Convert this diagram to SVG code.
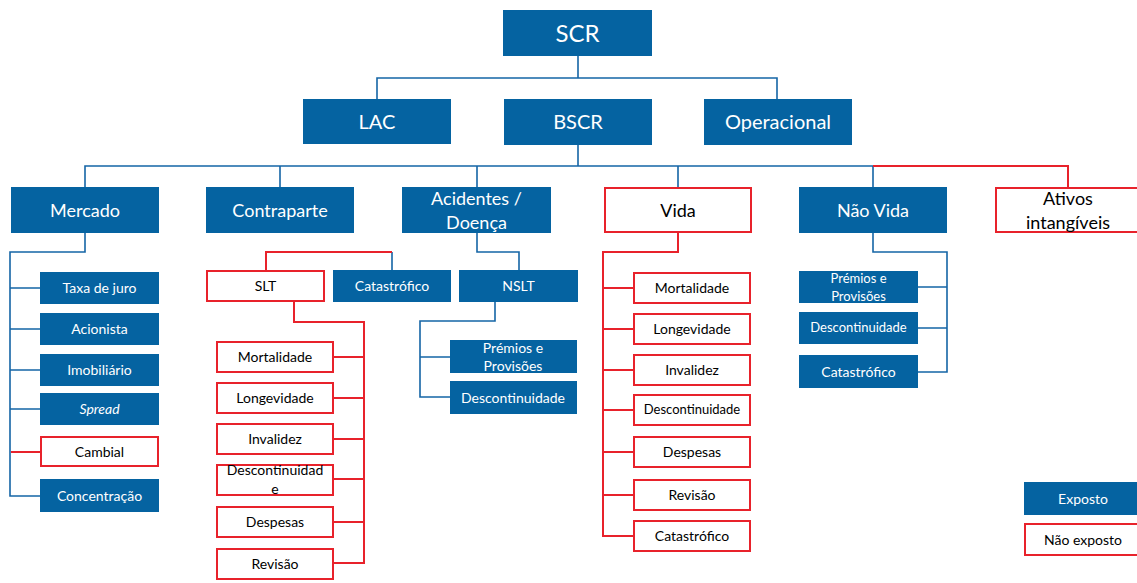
<svg xmlns="http://www.w3.org/2000/svg" width="1137" height="583" viewBox="0 0 1137 583">
<style>
.b{fill:#0563A1}
.r{fill:#fff;stroke:#E8222B;stroke-width:2}
.t{font-family:Lato,"Open Sans","Liberation Sans",sans-serif;text-anchor:middle;dominant-baseline:central;transform:translateY(-1px)}
.w{fill:#fff}
.k{fill:#000}
.bl{fill:none;stroke:#1565A6;stroke-width:1.6}
.rl{fill:none;stroke:#E8222B;stroke-width:2}
.f24{font-size:24px}.f20{font-size:20px}.f18{font-size:18px}.f14{font-size:14px}.f13{font-size:13px}
</style>
<rect width="1137" height="583" fill="#fff"/>
<g id="connectors">
<path class="bl" d="M578 56V78M377 99V78H777V99M578 145V166M85 187V166H873V187M280 166V187M477 166V187M678 166V187"/>
<path class="rl" d="M873 166H1068V187"/>
<path class="bl" d="M85 233V252H10V496H40M10 288H40M10 329H40M10 370H40M10 409H40"/>
<path class="rl" d="M11 452H40"/>
<path class="bl" d="M477 233V252H519V270M392 252V270"/>
<path class="rl" d="M392 252H266V271"/>
<path class="rl" d="M294 301V322H364V563H333M333 357H364M333 398H364M333 439H364M333 479H364M333 522H364"/>
<path class="bl" d="M495 302V321H420V397H450M420 357H450"/>
<path class="rl" d="M678 233V252H603V536H633M603 288H633M603 329H633M603 370H633M603 410H633M603 452H633M603 495H633"/>
<path class="bl" d="M873 233V252H947V372H918M918 287H947M918 328H947"/>
</g>
<g id="scr"><rect class="b" x="503" y="10" width="149" height="46"/><text class="t w f24" x="577.5" y="33">SCR</text></g>
<g id="lac"><rect class="b" x="303" y="99" width="148" height="45"/><text class="t w f20" x="377" y="122">LAC</text></g>
<g id="bscr"><rect class="b" x="504" y="99" width="148" height="46"/><text class="t w f20" x="578" y="122">BSCR</text></g>
<g id="operacional"><rect class="b" x="704" y="99" width="148" height="46"/><text class="t w f20" x="778" y="122">Operacional</text></g>
<g id="mercado"><rect class="b" x="11" y="187" width="148" height="46"/><text class="t w f18" x="85" y="211">Mercado</text></g>
<g id="contraparte"><rect class="b" x="206" y="187" width="148" height="46"/><text class="t w f18" x="280" y="211">Contraparte</text></g>
<g id="acidentes"><rect class="b" x="402" y="187" width="149" height="46"/><text class="t w f18" x="476.5" y="199">Acidentes /</text><text class="t w f18" x="476.5" y="223">Doença</text></g>
<g id="vida"><rect class="r" x="605" y="188" width="146" height="44"/><text class="t k f18" x="678" y="211">Vida</text></g>
<g id="naovida"><rect class="b" x="799" y="187" width="148" height="46"/><text class="t w f18" x="873" y="211">Não Vida</text></g>
<g id="ativos"><rect class="r" x="996" y="188" width="146" height="44"/><text class="t k f18" x="1068" y="199">Ativos</text><text class="t k f18" x="1068" y="223">intangíveis</text></g>
<g id="m-taxa"><rect class="b" x="40" y="272" width="119" height="32"/><text class="t w f14" x="99.5" y="288">Taxa de juro</text></g>
<g id="m-acionista"><rect class="b" x="40" y="313" width="119" height="32"/><text class="t w f14" x="99.5" y="329">Acionista</text></g>
<g id="m-imob"><rect class="b" x="40" y="354" width="119" height="32"/><text class="t w f14" x="99.5" y="370">Imobiliário</text></g>
<g id="m-spread"><rect class="b" x="40" y="393" width="119" height="32"/><text class="t w f14" x="99.5" y="409" font-style="italic">Spread</text></g>
<g id="m-cambial"><rect class="r" x="41" y="437" width="117" height="29"/><text class="t k f14" x="99.5" y="452">Cambial</text></g>
<g id="m-conc"><rect class="b" x="40" y="479" width="119" height="33"/><text class="t w f14" x="99.5" y="496">Concentração</text></g>
<g id="slt"><rect class="r" x="207" y="271" width="117" height="30"/><text class="t k f14" x="265.5" y="286">SLT</text></g>
<g id="cat-ad"><rect class="b" x="333" y="270" width="118" height="32"/><text class="t w f14" x="392" y="286">Catastrófico</text></g>
<g id="nslt"><rect class="b" x="459" y="270" width="119" height="32"/><text class="t w f14" x="518.5" y="286">NSLT</text></g>
<g id="s-mort"><rect class="r" x="217" y="342" width="116" height="30"/><text class="t k f14" x="275" y="357">Mortalidade</text></g>
<g id="s-long"><rect class="r" x="217" y="383" width="116" height="30"/><text class="t k f14" x="275" y="398">Longevidade</text></g>
<g id="s-inv"><rect class="r" x="217" y="424" width="116" height="30"/><text class="t k f14" x="275" y="439">Invalidez</text></g>
<g id="s-desc"><rect class="r" x="217" y="465" width="116" height="30"/><text class="t k f14" x="275" y="470">Descontinuidad</text><text class="t k f14" x="275" y="489">e</text></g>
<g id="s-desp"><rect class="r" x="217" y="507" width="116" height="30"/><text class="t k f14" x="275" y="522">Despesas</text></g>
<g id="s-rev"><rect class="r" x="217" y="549" width="116" height="30"/><text class="t k f14" x="275" y="564">Revisão</text></g>
<g id="n-prem"><rect class="b" x="450" y="340" width="127" height="33"/><text class="t w f14" x="513" y="348">Prémios e</text><text class="t w f14" x="513" y="366">Provisões</text></g>
<g id="n-desc"><rect class="b" x="450" y="381" width="127" height="33"/><text class="t w f14" x="513" y="398">Descontinuidade</text></g>
<g id="v-mort"><rect class="r" x="634" y="273" width="116" height="30"/><text class="t k f14" x="692" y="288">Mortalidade</text></g>
<g id="v-long"><rect class="r" x="634" y="314" width="116" height="30"/><text class="t k f14" x="692" y="329">Longevidade</text></g>
<g id="v-inv"><rect class="r" x="634" y="355" width="116" height="30"/><text class="t k f14" x="692" y="370">Invalidez</text></g>
<g id="v-desc"><rect class="r" x="634" y="395" width="116" height="30"/><text class="t k f13" x="692" y="410">Descontinuidade</text></g>
<g id="v-desp"><rect class="r" x="634" y="437" width="116" height="30"/><text class="t k f14" x="692" y="452">Despesas</text></g>
<g id="v-rev"><rect class="r" x="634" y="480" width="116" height="30"/><text class="t k f14" x="692" y="495">Revisão</text></g>
<g id="v-cat"><rect class="r" x="634" y="521" width="116" height="30"/><text class="t k f14" x="692" y="536">Catastrófico</text></g>
<g id="nv-prem"><rect class="b" x="799" y="271" width="119" height="32"/><text class="t w f13" x="858.5" y="279">Prémios e</text><text class="t w f13" x="858.5" y="297">Provisões</text></g>
<g id="nv-desc"><rect class="b" x="799" y="312" width="119" height="32"/><text class="t w f13" x="858.5" y="328">Descontinuidade</text></g>
<g id="nv-cat"><rect class="b" x="799" y="355" width="119" height="33"/><text class="t w f14" x="858.5" y="372">Catastrófico</text></g>
<g id="legend-exposto"><rect class="b" x="1024" y="482" width="118" height="33"/><text class="t w f14" x="1083" y="499">Exposto</text></g>
<g id="legend-nao-exposto"><rect class="r" x="1025" y="524" width="117" height="31"/><text class="t k f14" x="1083" y="540">Não exposto</text></g>
</svg>
